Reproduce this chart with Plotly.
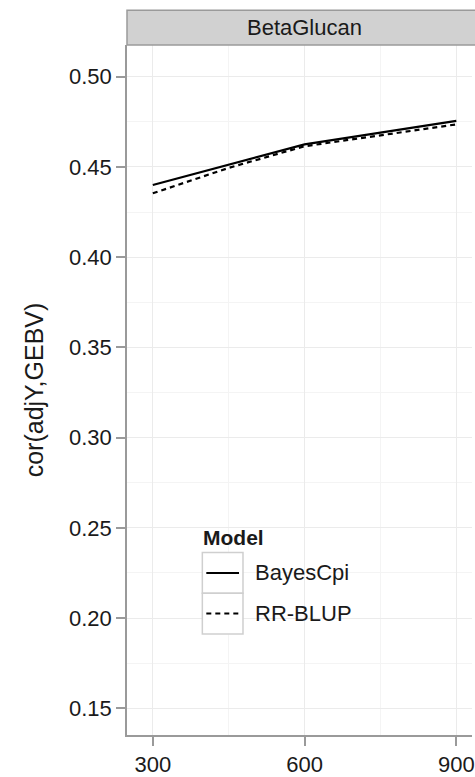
import plotly.graph_objects as go

sizes = [300, 450, 600, 750, 900]
bayescpi = [0.4400, 0.4512, 0.4625, 0.4690, 0.4755]
rrblup = [0.4354, 0.4495, 0.4615, 0.4675, 0.4736]
y_ticks = [0.15, 0.20, 0.25, 0.30, 0.35, 0.40, 0.45, 0.50]
x_ticks = [300, 600, 900]
panel_title = "BetaGlucan"
legend_title = "Model"
model_names = ["BayesCpi", "RR-BLUP"]
model_dash = ["solid", "5px,4px"]

W, H = 475, 777
ml, mr, mt, mb = 127, 0, 45, 36
pw, ph = W - ml - mr, H - mt - mb

fig = go.Figure()
for name, vals, dash in zip(model_names, [bayescpi, rrblup], model_dash):
    fig.add_trace(go.Scatter(x=sizes, y=vals, mode="lines", name=name, showlegend=False,
                             line=dict(color="black", width=2.2, dash=dash)))

font = "Liberation Sans, Arial, sans-serif"
grid = "#ebebeb"
fig.update_layout(
    width=W, height=H,
    margin=dict(l=ml, r=mr, t=mt, b=mb),
    paper_bgcolor="white", plot_bgcolor="white",
    font=dict(family=font, size=22, color="#1a1a1a"),
    xaxis=dict(range=[249, 931], tickvals=x_ticks, ticktext=[str(v) for v in x_ticks],
               showgrid=True, gridcolor=grid, gridwidth=1,
               minor=dict(tickvals=[450, 750], showgrid=True, gridcolor="#f4f4f4", gridwidth=1, ticklen=0),
               showline=True, linecolor="#9a9a9a", linewidth=1.5,
               ticks="outside", ticklen=9, tickcolor="#9a9a9a", tickwidth=1.5,
               ticklabeloverflow="allow",
               tickfont=dict(size=22, color="#1a1a1a"), zeroline=False),
    yaxis=dict(range=[0.1352, 0.5176], tickvals=y_ticks, ticktext=[f"{v:.2f}" for v in y_ticks],
               showgrid=True, gridcolor=grid, gridwidth=1,
               minor=dict(tickvals=[0.175, 0.225, 0.275, 0.325, 0.375, 0.425, 0.475],
                          showgrid=True, gridcolor="#f4f4f4", gridwidth=1, ticklen=0),
               showline=True, linecolor="#9a9a9a", linewidth=1.5,
               ticks="outside", ticklen=9, tickcolor="#9a9a9a", tickwidth=1.5,
               tickfont=dict(size=22, color="#1a1a1a"), zeroline=False,
               title=dict(text="cor(adjY,GEBV)", font=dict(size=25, color="#1a1a1a"), standoff=18)),
    showlegend=False,
)

# facet strip
fig.add_shape(type="rect", xref="paper", yref="paper", x0=0, x1=1.02, y0=1, y1=1 + 35 / ph,
              fillcolor="#d1d1d1", line=dict(color="#9a9a9a", width=1.5), layer="above")
fig.add_annotation(text=panel_title, xref="x", yref="paper", x=600, y=1 + 17.5 / ph,
                   showarrow=False, font=dict(size=22, color="#1a1a1a"), xanchor="center", yanchor="middle")

# legend (drawn in pixel-derived paper coordinates)
def px_x(p):
    return (p - ml) / pw

def px_y(p):
    return 1 - (p - mt) / ph

fig.add_annotation(text="<b>" + legend_title + "</b>", xref="paper", yref="paper",
                   x=px_x(202), y=px_y(542), xanchor="left", yanchor="middle", showarrow=False,
                   font=dict(size=21, color="#1a1a1a"))
box_top, box_h = 557, 41
for i, (name, dash) in enumerate(zip(model_names, model_dash)):
    t = box_top + i * box_h
    fig.add_shape(type="rect", xref="paper", yref="paper", x0=px_x(203), x1=px_x(244),
                  y0=px_y(t), y1=px_y(t + box_h), fillcolor="white",
                  line=dict(color="#cfcfcf", width=1.5), layer="above")
    cy = t + box_h / 2
    fig.add_shape(type="line", xref="paper", yref="paper", x0=px_x(207), x1=px_x(240),
                  y0=px_y(cy), y1=px_y(cy), line=dict(color="black", width=2, dash=dash), layer="above")
    fig.add_annotation(text=name, xref="paper", yref="paper", x=px_x(254), y=px_y(cy),
                       xanchor="left", yanchor="middle", showarrow=False,
                       font=dict(size=22, color="#1a1a1a"))

fig.write_html("out.html")
